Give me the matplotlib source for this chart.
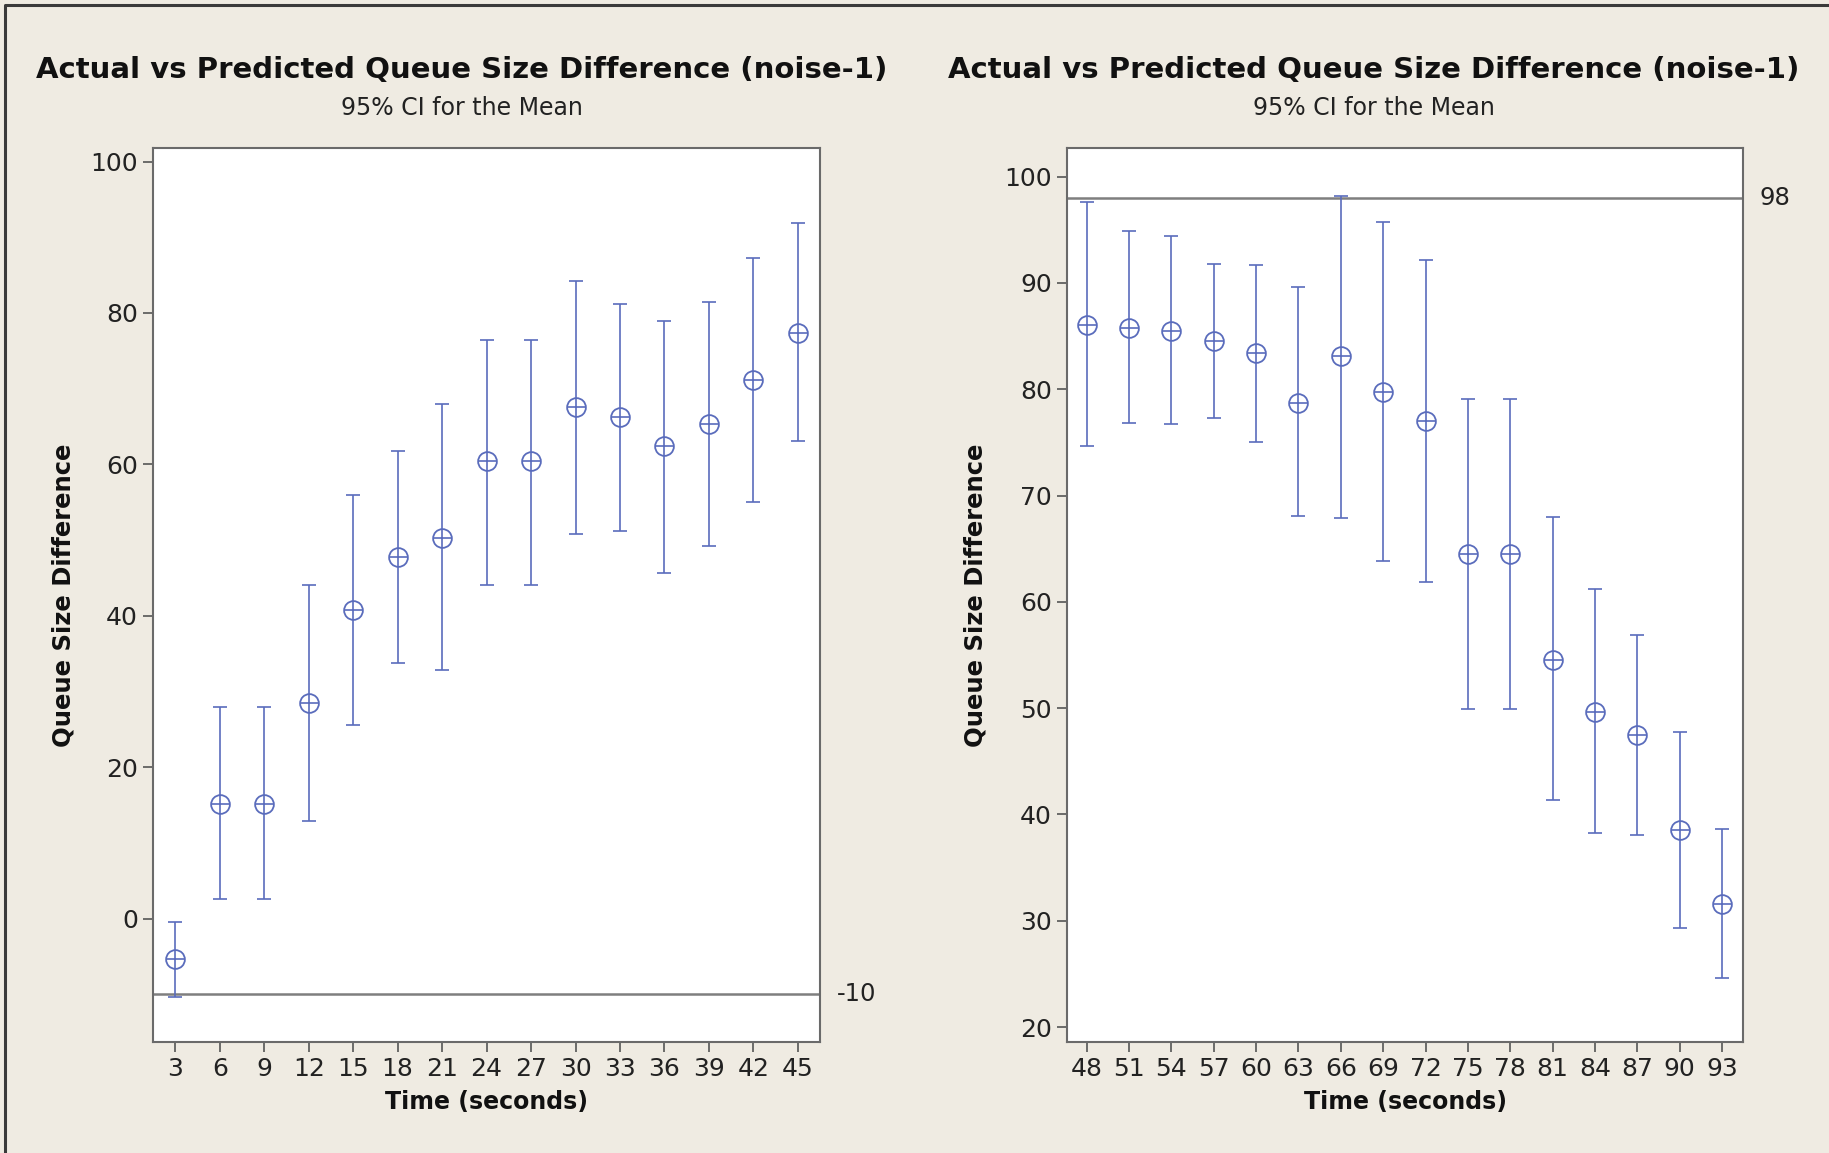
import matplotlib
matplotlib.use("Agg")
import matplotlib.pyplot as plt
from matplotlib.lines import Line2D

# left panel: 3..45 s
TIME_A = [3, 6, 9, 12, 15, 18, 21, 24, 27, 30, 33, 36, 39, 42, 45]
MEAN_A = [-5.4, 15.2, 15.2, 28.5, 40.7, 47.7, 50.3, 60.4, 60.4, 67.6, 66.2, 62.4, 65.3, 71.2, 77.4]
UPPER_A = [-0.5, 27.9, 27.9, 44.1, 56.0, 61.8, 68.0, 76.4, 76.4, 84.2, 81.2, 78.9, 81.4, 87.3, 91.9]
LOWER_A = [-10.3, 2.6, 2.6, 12.9, 25.6, 33.8, 32.8, 44.1, 44.1, 50.8, 51.2, 45.7, 49.2, 55.0, 63.1]
REF_A = -10

# right panel: 48..93 s
TIME_B = [48, 51, 54, 57, 60, 63, 66, 69, 72, 75, 78, 81, 84, 87, 90, 93]
MEAN_B = [86.0, 85.8, 85.5, 84.5, 83.4, 78.7, 83.1, 79.7, 77.0, 64.5, 64.5, 54.5, 49.6, 47.5, 38.5, 31.6]
UPPER_B = [97.6, 94.9, 94.4, 91.8, 91.7, 89.6, 98.2, 95.7, 92.2, 79.1, 79.1, 68.0, 61.2, 56.9, 47.8, 38.6]
LOWER_B = [74.7, 76.8, 76.7, 77.3, 75.0, 68.1, 67.9, 63.8, 61.9, 49.9, 49.9, 41.4, 38.3, 38.1, 29.3, 24.6]
REF_B = 98

TITLE = "Actual vs Predicted Queue Size Difference (noise-1)"
SUBTITLE = "95% CI for the Mean"
BG = "#efebe2"
BLUE = "#5a6cbc"

plt.rcParams["font.family"] = ["DejaVu Sans"]

fig = plt.figure(figsize=(18.29, 11.53), dpi=100, facecolor=BG)
# dark frame only on top and left edges, as in the screenshot
fig.lines.append(Line2D([0.003, 0.003, 1.0], [0.0, 0.996, 0.996], transform=fig.transFigure,
                        color="#3a3a3a", linewidth=2.2))

ax_a = fig.add_axes([0.0837, 0.0963, 0.3647, 0.7754])
ax_b = fig.add_axes([0.5834, 0.0963, 0.3696, 0.7754])


def draw_panel(ax, t, mean, lo, hi, ref, xlim, ylim, yticks):
    yerr = [[m - l for m, l in zip(mean, lo)], [h - m for h, m in zip(hi, mean)]]
    ax.errorbar(t, mean, yerr=yerr, fmt="none", ecolor=BLUE, elinewidth=1.2,
                capsize=5, capthick=1.2, zorder=2)
    ax.plot(t, mean, "o", ms=13.5, mfc="white", mec=BLUE, mew=1.3, zorder=3)
    ax.plot(t, mean, "+", ms=13.5, mec=BLUE, mew=1.2, zorder=4)
    ax.axhline(ref, color="#7f7f7f", linewidth=1.8, zorder=1)
    ax.annotate(str(ref), xy=(1, ref), xycoords=("axes fraction", "data"),
                xytext=(12, 0), textcoords="offset points", va="center", ha="left",
                fontsize=17.5, color="#222222")
    ax.set_xlim(*xlim)
    ax.set_ylim(*ylim)
    ax.set_xticks(t)
    ax.set_yticks(yticks)
    ax.tick_params(direction="out", length=7, width=1.2, colors="#555555",
                   labelcolor="#222222", labelsize=18, pad=4)
    for sp in ax.spines.values():
        sp.set_color("#6a6a6a")
        sp.set_linewidth(1.5)
    ax.set_facecolor("white")
    ax.set_xlabel("Time (seconds)", fontsize=17, fontweight="bold", color="#111111")
    ax.set_ylabel("Queue Size Difference", fontsize=17.5, fontweight="bold", color="#111111")
    ax.xaxis.set_label_coords(0.5, -0.054)
    ax.yaxis.set_label_coords(-0.117, 0.5)


draw_panel(ax_a, TIME_A, MEAN_A, LOWER_A, UPPER_A, REF_A,
           (1.5, 46.5), (-16.3, 101.8), [0, 20, 40, 60, 80, 100])
draw_panel(ax_b, TIME_B, MEAN_B, LOWER_B, UPPER_B, REF_B,
           (46.6, 94.5), (18.6, 102.7), [20, 30, 40, 50, 60, 70, 80, 90, 100])

for cx in (0.2526, 0.7513):
    fig.text(cx, 0.939, TITLE, ha="center", va="center", fontsize=21,
             fontweight="bold", color="#111111")
    fig.text(cx, 0.906, SUBTITLE, ha="center", va="center", fontsize=17, color="#222222")

fig.savefig("out.png", dpi=100, facecolor=BG)
